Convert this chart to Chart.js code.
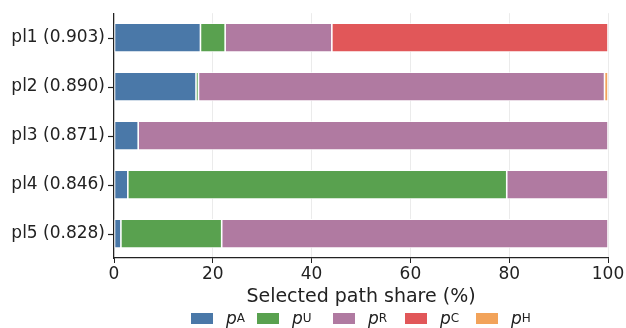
<!DOCTYPE html>
<html>
<head>
<meta charset="utf-8">
<script src="https://cdn.jsdelivr.net/npm/chart.js@4/dist/chart.umd.min.js"></script>
<style>
  html, body { margin: 0; padding: 0; background: #fff; }
  #wrap { position: relative; width: 626px; height: 328px; }
  #legend { position: absolute; left: 0; top: 308px; width: 626px; height: 20px;
    font-family: "DejaVu Sans", sans-serif; font-size: 17px; color: #222; }
  .item { position: absolute; top: 0; display: flex; align-items: center; height: 20px; white-space: nowrap; }
  .box { width: 22px; height: 11px; margin-right: 13px; }
  .item i { font-style: italic; }
  .item sub { font-size: 12px; vertical-align: -3px; }
</style>
</head>
<body>
<div id="wrap">
  <canvas id="c" width="626" height="328"></canvas>
  <div id="legend"></div>
</div>
<script>
const categories = ['pl1 (0.903)', 'pl2 (0.890)', 'pl3 (0.871)', 'pl4 (0.846)', 'pl5 (0.828)'];
const seriesNames = ['A', 'U', 'R', 'C', 'H'];
const pA = [17.5, 16.6, 4.9, 2.8, 1.4];
const pU = [5.0, 0.5, 0, 76.7, 20.4];
const pR = [21.6, 82.2, 95.1, 20.5, 78.2];
const pC = [55.9, 0, 0, 0, 0];
const pH = [0, 0.7, 0, 0, 0];
const xTicks = [0, 20, 40, 60, 80, 100];

const colors = ['#4a78a8', '#59a14f', '#b07aa1', '#e15759', '#f2a35a'];
const values = [pA, pU, pR, pC, pH];
const legendLeft = [191, 257, 333, 405, 476];

const font = { family: 'DejaVu Sans', size: 17 };

// y tick marks at the category centres, like matplotlib
const yTickMarks = {
  id: 'yTickMarks',
  afterDraw(chart) {
    const y = chart.scales.y;
    const ctx = chart.ctx;
    ctx.save();
    ctx.strokeStyle = '#222';
    ctx.lineWidth = 1.2;
    y.ticks.forEach((t, i) => {
      const py = Math.round(y.getPixelForTick(i)) + 0.5;
      ctx.beginPath();
      ctx.moveTo(y.right - 6, py);
      ctx.lineTo(y.right, py);
      ctx.stroke();
    });
    ctx.restore();
  }
};

new Chart(document.getElementById('c'), {
  type: 'bar',
  data: {
    labels: categories,
    datasets: values.map((v, i) => ({
      label: 'p' + seriesNames[i],
      data: v,
      backgroundColor: colors[i],
      borderColor: '#ffffff',
      borderWidth: 0.8,
      borderSkipped: false,
      barPercentage: 0.59,
      categoryPercentage: 1
    }))
  },
  options: {
    indexAxis: 'y',
    responsive: false,
    animation: false,
    layout: { padding: { top: 10, right: 18, bottom: 20, left: 0 } },
    plugins: { legend: { display: false }, tooltip: { enabled: false } },
    scales: {
      x: {
        stacked: true,
        min: 0,
        max: 100,
        afterBuildTicks: (s) => { s.ticks = xTicks.map(v => ({ value: v })); },
        afterFit: (s) => { s.height = 50; },
        ticks: { font: font, color: '#222', padding: 1, maxRotation: 0 },
        grid: { color: '#ebebeb', tickColor: '#222', tickLength: 5, lineWidth: 1 },
        border: { display: true, color: '#222', width: 1.2 },
        title: {
          display: true,
          text: 'Selected path share (%)',
          font: { family: 'DejaVu Sans', size: 19 },
          color: '#222',
          padding: { top: 0, bottom: 0 }
        }
      },
      y: {
        stacked: true,
        afterFit: (s) => { s.width = 114; },
        ticks: { font: font, color: '#222', padding: 3 },
        grid: { drawOnChartArea: false, color: 'rgba(0,0,0,0)', tickLength: 6 },
        border: { display: true, color: '#222', width: 1.2 }
      }
    }
  },
  plugins: [yTickMarks]
});

const legend = document.getElementById('legend');
seriesNames.forEach((n, i) => {
  const item = document.createElement('div');
  item.className = 'item';
  item.style.left = legendLeft[i] + 'px';
  item.innerHTML = '<span class="box" style="background:' + colors[i] + '"></span><i>p</i><sub>' + n + '</sub>';
  legend.appendChild(item);
});
</script>
</body>
</html>
